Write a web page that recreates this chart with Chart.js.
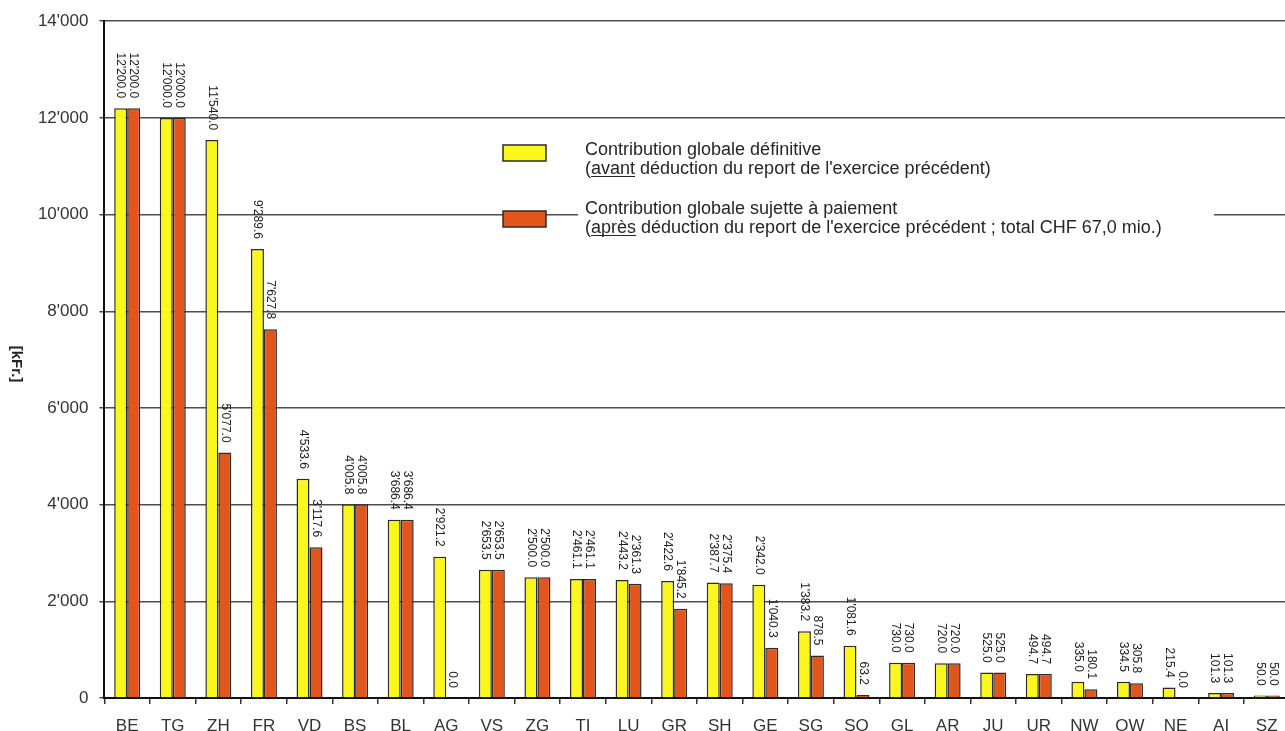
<!DOCTYPE html>
<html>
<head>
<meta charset="utf-8">
<script src="https://cdn.jsdelivr.net/npm/chart.js@4.4.1/dist/chart.umd.min.js"></script>
<style>
  html, body { margin: 0; padding: 0; background: #fff; overflow: hidden; }
  #wrap { position: absolute; left: 0; top: 0; width: 1292px; height: 740px; }
</style>
</head>
<body>
<div id="wrap"><canvas id="chart"></canvas></div>
<script>
// Cantons, in the order they are plotted
const cantons = ['BE','TG','ZH','FR','VD','BS','BL','AG','VS','ZG','TI','LU','GR','SH','GE','SG','SO','GL','AR','JU','UR','NW','OW','NE','AI','SZ'];

// Contribution globale définitive (avant déduction du report), kFr.
const contributionDefinitive = [12200.0, 12000.0, 11540.0, 9289.6, 4533.6, 4005.8, 3686.4, 2921.2, 2653.5, 2500.0, 2461.1, 2443.2, 2422.6, 2387.7, 2342.0, 1383.2, 1081.6, 730.0, 720.0, 525.0, 494.7, 335.0, 334.5, 215.4, 101.3, 50.0];

// Contribution globale sujette à paiement (après déduction du report), kFr.
const contributionPaiement = [12200.0, 12000.0, 5077.0, 7627.8, 3117.6, 4005.8, 3686.4, 0.0, 2653.5, 2500.0, 2461.1, 2361.3, 1845.2, 2375.4, 1040.3, 878.5, 63.2, 730.0, 720.0, 525.0, 494.7, 180.1, 305.8, 0.0, 101.3, 50.0];

// Y axis range and step
const yMin = 0;
const yMax = 14000;
const yStep = 2000;

const legendLabels = [
  ['Contribution globale définitive', '(avant déduction du report de l\'exercice précédent)', 'avant'],
  ['Contribution globale sujette à paiement', '(après déduction du report de l\'exercice précédent ; total CHF 67,0 mio.)', 'après']
];
const axisTitle = '[kFr.]';

const YELLOW = '#fbf61c';
const ORANGE = '#e2561c';
const EDGE = '#2b2b2b';
const FONT = '"Liberation Sans", Arial, Helvetica, sans-serif';

// Swiss style thousands separator: 12'200.0
function swiss(v, decimals) {
  const s = v.toFixed(decimals);
  const parts = s.split('.');
  const intPart = parts[0].replace(/\B(?=(\d{3})+(?!\d))/g, "'");
  return parts.length > 1 ? intPart + '.' + parts[1] : intPart;
}

// Vertical value labels above each bar, reading top to bottom
const valueLabels = {
  id: 'valueLabels',
  afterDatasetsDraw(chart) {
    const ctx = chart.ctx;
    ctx.save();
    ctx.font = '12px ' + FONT;
    ctx.fillStyle = '#222';
    ctx.textAlign = 'right';
    ctx.textBaseline = 'middle';
    chart.data.datasets.forEach((ds, di) => {
      const meta = chart.getDatasetMeta(di);
      meta.data.forEach((bar, i) => {
        const txt = swiss(ds.data[i], 1);
        ctx.save();
        ctx.translate(bar.x, bar.y - 10);
        ctx.rotate(Math.PI / 2);
        ctx.fillText(txt, 0, 0);
        ctx.restore();
      });
    });
    ctx.restore();
  }
};

// Axis title, rotated clockwise, and the legend block inside the plot
const decorations = {
  id: 'decorations',
  afterDraw(chart) {
    const ctx = chart.ctx;
    ctx.save();
    // axis title
    ctx.font = 'bold 15px ' + FONT;
    ctx.fillStyle = '#222';
    ctx.textAlign = 'center';
    ctx.textBaseline = 'middle';
    ctx.translate(16, 364);
    ctx.rotate(Math.PI / 2);
    ctx.fillText(axisTitle, 0, 0);
    ctx.restore();

    // legend
    ctx.save();
    ctx.fillStyle = '#fff';
    ctx.fillRect(578, 192, 636, 44);
    const entries = [
      { color: YELLOW, boxTop: 145, base: 155 },
      { color: ORANGE, boxTop: 211, base: 214 }
    ];
    entries.forEach((e, k) => {
      ctx.fillStyle = e.color;
      ctx.fillRect(503, e.boxTop, 43, 16);
      ctx.strokeStyle = EDGE;
      ctx.lineWidth = 1.5;
      ctx.strokeRect(503, e.boxTop, 43, 16);
      ctx.font = '18px ' + FONT;
      ctx.fillStyle = '#262626';
      ctx.textAlign = 'left';
      ctx.textBaseline = 'alphabetic';
      const lines = legendLabels[k];
      ctx.fillText(lines[0], 585, e.base);
      ctx.fillText(lines[1], 585, e.base + 19);
      // underline the key word of the second line
      const pre = ctx.measureText('(').width;
      const w = ctx.measureText(lines[2]).width;
      ctx.strokeStyle = '#262626';
      ctx.lineWidth = 1;
      ctx.beginPath();
      ctx.moveTo(585 + pre, e.base + 19 + 2.5);
      ctx.lineTo(585 + pre + w, e.base + 19 + 2.5);
      ctx.stroke();
    });
    ctx.restore();
  }
};

const ctx = document.getElementById('chart').getContext('2d');
new Chart(ctx, {
  type: 'bar',
  data: {
    labels: cantons,
    datasets: [
      {
        label: legendLabels[0][0],
        data: contributionDefinitive,
        backgroundColor: YELLOW,
        borderColor: EDGE,
        borderWidth: 1.5,
        categoryPercentage: 0.57,
        barPercentage: 1.0
      },
      {
        label: legendLabels[1][0],
        data: contributionPaiement,
        backgroundColor: ORANGE,
        borderColor: EDGE,
        borderWidth: 1.5,
        categoryPercentage: 0.57,
        barPercentage: 1.0
      }
    ]
  },
  options: {
    responsive: true,
    maintainAspectRatio: false,
    devicePixelRatio: 1,
    animation: false,
    layout: { padding: { top: 19.5, right: 2.5, bottom: 6, left: 0 } },
    plugins: {
      legend: { display: false },
      tooltip: { enabled: false },
      title: { display: false }
    },
    scales: {
      x: {
        afterFit(scale) { scale.height = 36; },
        grid: {
          display: true,
          drawOnChartArea: false,
          drawTicks: true,
          tickLength: 6,
          color: '#333',
          lineWidth: 1.5,
          offset: true
        },
        border: { display: true, color: '#111', width: 2 },
        ticks: {
          color: '#333',
          font: { family: FONT, size: 17 },
          padding: 12,
          maxRotation: 0,
          autoSkip: false
        }
      },
      y: {
        min: yMin,
        max: yMax,
        afterFit(scale) { scale.width = 104.4; },
        grid: {
          color: '#4d4d4d',
          lineWidth: 1.5,
          drawTicks: true,
          tickLength: 5
        },
        border: { display: true, color: '#111', width: 2 },
        ticks: {
          stepSize: yStep,
          color: '#333',
          font: { family: FONT, size: 17 },
          padding: 11,
          callback: (v) => swiss(v, 0)
        }
      }
    }
  },
  plugins: [valueLabels, decorations]
});
</script>
</body>
</html>
